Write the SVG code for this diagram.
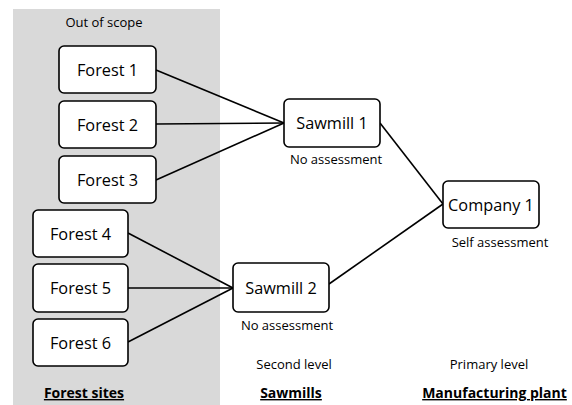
<svg xmlns="http://www.w3.org/2000/svg" width="572" height="405" viewBox="0 0 572 405">
  <style>
    .box { fill: #ffffff; stroke: #000000; stroke-width: 1.6; }
    .name { font-family: "Open Sans", "Liberation Sans", sans-serif; font-size: 16.3px; fill: #000000; text-anchor: middle; }
    .note { font-family: "Open Sans", "Liberation Sans", sans-serif; font-size: 13px; fill: #000000; text-anchor: middle; }
    .head { font-family: "Open Sans", "Liberation Sans", sans-serif; font-size: 14px; font-weight: bold; fill: #000000; text-anchor: middle; text-decoration: underline; }
    .link { stroke: #000000; stroke-width: 1.6; fill: none; }
  </style>

  <rect width="572" height="405" fill="#ffffff"/>
  <!-- out-of-scope band behind the forest sites -->
  <rect x="13" y="9" width="207" height="396" fill="#d9d9d9"/>
  <text class="note" x="104" y="27">Out of scope</text>

  <g id="connectors">
    <line class="link" x1="156" y1="70" x2="284" y2="123"/>
    <line class="link" x1="156" y1="124" x2="284" y2="123"/>
    <line class="link" x1="156" y1="180" x2="284" y2="123"/>
    <line class="link" x1="128" y1="233" x2="233" y2="288"/>
    <line class="link" x1="128" y1="288" x2="233" y2="288"/>
    <line class="link" x1="128" y1="342" x2="233" y2="288"/>
    <line class="link" x1="380" y1="123" x2="443" y2="204"/>
    <line class="link" x1="329" y1="284" x2="443" y2="204"/>
  </g>

  <g id="forest1"><rect class="box" x="59" y="46" width="97" height="47" rx="5"/><text class="name" x="107.5" y="75.5">Forest 1</text></g>
  <g id="forest2"><rect class="box" x="59" y="101" width="97" height="47" rx="5"/><text class="name" x="107.5" y="130.5">Forest 2</text></g>
  <g id="forest3"><rect class="box" x="59" y="156" width="97" height="47" rx="5"/><text class="name" x="107.5" y="185.5">Forest 3</text></g>
  <g id="forest4"><rect class="box" x="33" y="210" width="95" height="47" rx="5"/><text class="name" x="80.5" y="239.5">Forest 4</text></g>
  <g id="forest5"><rect class="box" x="33" y="264" width="95" height="48" rx="5"/><text class="name" x="80.5" y="294">Forest 5</text></g>
  <g id="forest6"><rect class="box" x="33" y="319" width="95" height="47" rx="5"/><text class="name" x="80.5" y="348.5">Forest 6</text></g>

  <g id="sawmill1"><rect class="box" x="284" y="99" width="96" height="48" rx="5"/><text class="name" x="332" y="129">Sawmill 1</text><text class="note" x="336" y="164">No assessment</text></g>
  <g id="sawmill2"><rect class="box" x="233" y="263" width="96" height="49" rx="5"/><text class="name" x="281" y="293.5">Sawmill 2</text><text class="note" x="287" y="330">No assessment</text></g>
  <g id="company1"><rect class="box" x="443" y="181" width="96" height="47" rx="5"/><text class="name" x="491" y="210.5">Company 1</text><text class="note" x="500" y="247">Self assessment</text></g>

  <text class="note" x="294" y="369">Second level</text>
  <text class="note" x="489" y="369">Primary level</text>

  <text class="head" x="84" y="398">Forest sites</text>
  <text class="head" x="291" y="398">Sawmills</text>
  <text class="head" x="494.5" y="398">Manufacturing plant</text>
</svg>
